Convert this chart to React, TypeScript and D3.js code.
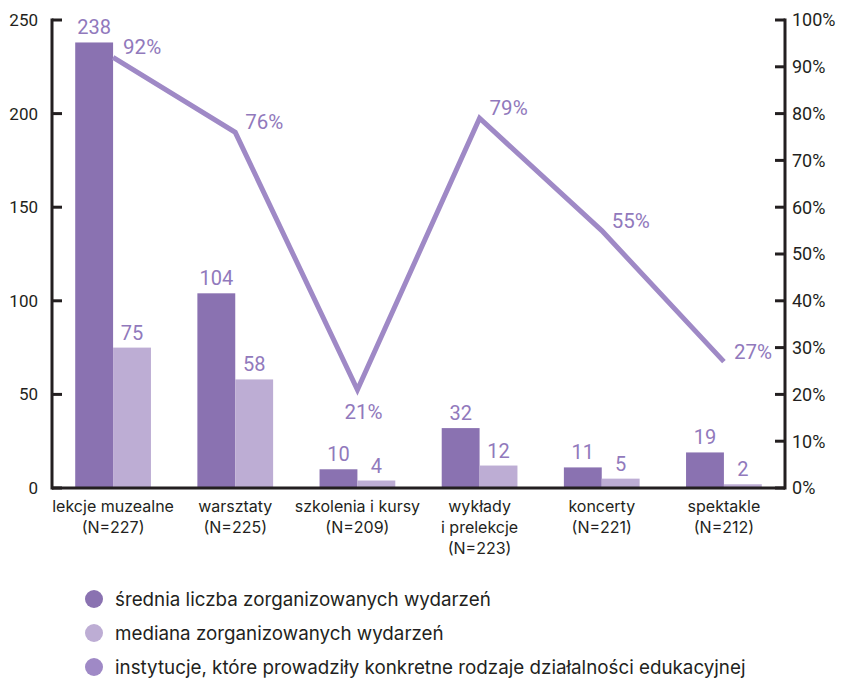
import React from "react";
import * as d3 from "d3";

const categories = [
  ["lekcje muzealne", "(N=227)"],
  ["warsztaty", "(N=225)"],
  ["szkolenia i kursy", "(N=209)"],
  ["wykłady", "i prelekcje", "(N=223)"],
  ["koncerty", "(N=221)"],
  ["spektakle", "(N=212)"],
];
const meanValues = [238, 104, 10, 32, 11, 19];
const medianValues = [75, 58, 4, 12, 5, 2];
const shareValues = [92, 76, 21, 79, 55, 27];
const leftTicks = [0, 50, 100, 150, 200, 250];
const rightTicks = [0, 10, 20, 30, 40, 50, 60, 70, 80, 90, 100];
const legendLabels = [
  "średnia liczba zorganizowanych wydarzeń",
  "mediana zorganizowanych wydarzeń",
  "instytucje, które prowadziły konkretne rodzaje działalności edukacyjnej",
];

const W = 841, H = 679;
const left = 52, right = 785, top = 20, bottom = 488;
const C_DARK = "#8a72b1";
const C_LIGHT = "#bdadd4";
const C_LINE = "#9f89c6";
const C_LABEL = "#9179bc";
const C_AXIS = "#231f20";
const FONT = "Roboto, 'Liberation Sans', sans-serif";
const FONT_TXT = "Inter, Roboto, sans-serif";

export default function App() {
  const idx = categories.map((_, i) => String(i));
  const x0 = d3.scaleBand().domain(idx).range([left, right]).paddingInner(0.38).paddingOuter(0.19);
  const x1 = d3.scaleBand().domain(["mean", "median"]).range([0, x0.bandwidth()]);
  const yL = d3.scaleLinear().domain([0, 250]).range([bottom, top]);
  const yR = d3.scaleLinear().domain([0, 100]).range([bottom, top]);
  const cx = (i: number) => (x0(String(i)) as number) + x0.bandwidth() / 2;
  const line = d3.line<number>().x((_, i) => cx(i)).y((d) => yR(d));
  const minIdx = shareValues.indexOf(d3.min(shareValues) as number);

  return (
    <svg width={W} height={H} style={{ position: "absolute", left: 0, top: 0 }} fontFamily={FONT}>
      <rect width={W} height={H} fill="#fff" />
      {meanValues.map((v, i) => (
        <g key={"b" + i}>
          <rect x={(x0(String(i)) as number) + (x1("mean") as number)} y={yL(v)} width={x1.bandwidth()} height={bottom - yL(v)} fill={C_DARK} />
          <rect x={(x0(String(i)) as number) + (x1("median") as number)} y={yL(medianValues[i])} width={x1.bandwidth()} height={bottom - yL(medianValues[i])} fill={C_LIGHT} />
          <text x={(x0(String(i)) as number) + (x1("mean") as number) + x1.bandwidth() / 2} y={yL(v) - 8} textAnchor="middle" fontSize={20} fill={C_LABEL}>{v}</text>
          <text x={(x0(String(i)) as number) + (x1("median") as number) + x1.bandwidth() / 2} y={yL(medianValues[i]) - 8} textAnchor="middle" fontSize={20} fill={C_LABEL}>{medianValues[i]}</text>
        </g>
      ))}
      <path d={line(shareValues) as string} fill="none" stroke={C_LINE} strokeWidth={5} strokeLinejoin="miter" />
      {shareValues.map((v, i) => (
        i === minIdx ? (
          <text key={"s" + i} x={cx(i) + 6} y={yR(v) + 29} textAnchor="middle" fontSize={20.5} fill={C_LABEL}>{v}%</text>
        ) : (
          <text key={"s" + i} x={cx(i) + 10} y={yR(v) - 3} textAnchor="start" fontSize={20.5} fill={C_LABEL}>{v}%</text>
        )
      ))}
      <line x1={left} x2={left} y1={top - 1.5} y2={bottom + 1.5} stroke={C_AXIS} strokeWidth={3} />
      <line x1={right} x2={right} y1={top - 1.5} y2={bottom + 1.5} stroke={C_AXIS} strokeWidth={3} />
      <line x1={left} x2={right} y1={bottom} y2={bottom} stroke={C_AXIS} strokeWidth={3} />
      {leftTicks.map((t) => (
        <g key={"l" + t}>
          <line x1={left} x2={left + 10} y1={yL(t)} y2={yL(t)} stroke={C_AXIS} strokeWidth={3} />
          <text x={38} y={yL(t)} dy="0.35em" textAnchor="end" fontSize={17} fill="#231f20">{t}</text>
        </g>
      ))}
      {rightTicks.map((t) => (
        <g key={"r" + t}>
          <line x1={right - 10} x2={right} y1={yR(t)} y2={yR(t)} stroke={C_AXIS} strokeWidth={3} />
          <text x={792} y={yR(t)} dy="0.35em" textAnchor="start" fontSize={18} fill="#231f20">{t}%</text>
        </g>
      ))}
      {categories.map((lines, i) => (
        <text key={"c" + i} x={cx(i)} y={512} textAnchor="middle" fontSize={16} fontFamily={FONT_TXT} fill="#231f20">
          {lines.map((l, j) => (
            <tspan key={j} x={cx(i)} dy={j === 0 ? 0 : 21}>{l}</tspan>
          ))}
        </text>
      ))}
      {legendLabels.map((l, i) => (
        <g key={"lg" + i}>
          <circle cx={94} cy={599 + i * 34} r={9} fill={[C_DARK, C_LIGHT, C_LINE][i]} />
          <text x={115} y={599 + i * 34} dy="0.36em" fontSize={18.8} fontFamily={FONT_TXT} fill="#231f20">{l}</text>
        </g>
      ))}
    </svg>
  );
}
